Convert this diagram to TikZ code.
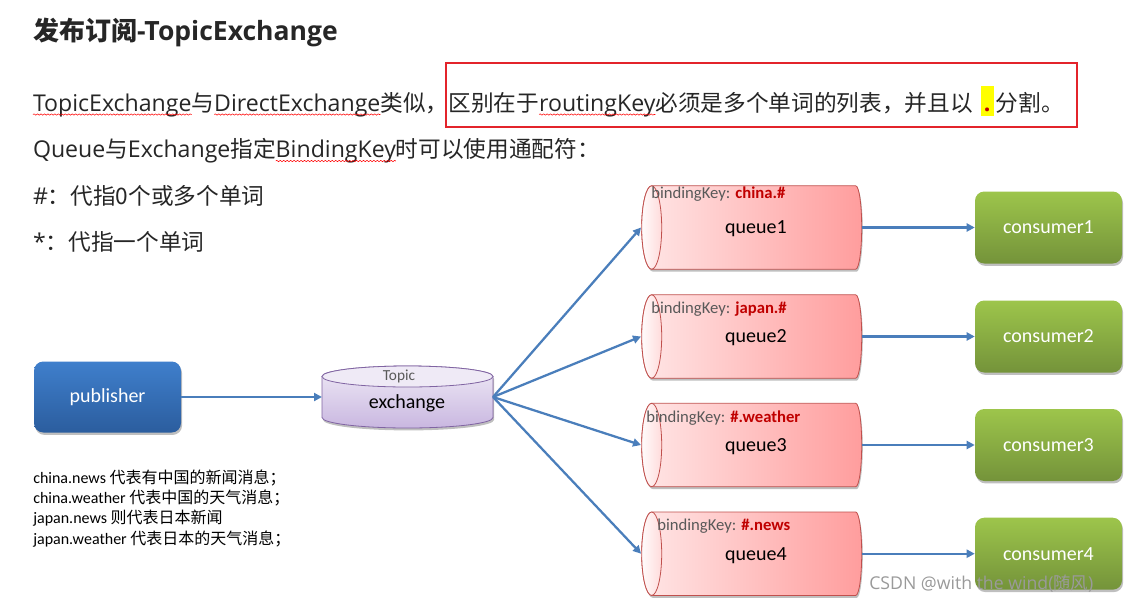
\documentclass[tikz,border=0pt]{standalone}
\usepackage{fontspec}
\setmainfont{Open Sans}[Scale=1.02]
\newfontfamily\zhf{Noto Sans CJK SC}
\newfontfamily\calf{Carlito}
\newcommand\zh[1]{{\zhf #1}}
\usetikzlibrary{shadows,decorations.pathmorphing,arrows.meta,calc}
\definecolor{txt}{HTML}{262626}
\definecolor{arr}{HTML}{4A7EBB}
\definecolor{boxred}{HTML}{E3242B}
\definecolor{keyred}{HTML}{C00000}
\definecolor{keygray}{HTML}{595959}
\definecolor{pubtop}{HTML}{3F7FCC}
\definecolor{pubbot}{HTML}{2B5D9E}
\definecolor{constop}{HTML}{9DC54B}
\definecolor{consbot}{HTML}{74933A}
\definecolor{qleft}{HTML}{FFE6E6}
\definecolor{qright}{HTML}{FF9D9D}
\definecolor{qborder}{HTML}{C0504D}
\definecolor{extop}{HTML}{EFEAF6}
\definecolor{exbot}{HTML}{C9B7E0}
\definecolor{exborder}{HTML}{8064A2}
\definecolor{hlyellow}{HTML}{FFFF00}
\definecolor{wmgray}{HTML}{9A9A9A}
\begin{document}
\begin{tikzpicture}[x=0.75pt,y=0.75pt,
  seg/.style={inner sep=0pt, outer sep=0pt, anchor=base west, text=txt, font=\fontsize{17}{20}\selectfont},
  titlef/.style={inner sep=0pt, outer sep=0pt, anchor=base west, text=txt, font=\fontsize{19.5}{22}\selectfont},
  squig/.style={draw=red, line width=0.4pt, decorate, decoration={snake, amplitude=0.5pt, segment length=2.6pt}},
  flow/.style={draw=arr, line width=1.7pt, -{Triangle[length=6pt,width=6pt]}},
  shad/.style={drop shadow={shadow xshift=0.8pt, shadow yshift=-1.8pt, opacity=0.25, fill=black}},
  pubbox/.style={rounded corners=7pt, top color=pubtop, bottom color=pubbot, minimum width=110.25pt, minimum height=53.25pt, text=white, font=\calf\fontsize{15}{18}\selectfont, shad},
  consbox/.style={rounded corners=7pt, top color=constop, bottom color=consbot, minimum width=110.25pt, minimum height=54pt, text=white, font=\calf\fontsize{15}{18}\selectfont, shad},
  qnode/.style={inner sep=0pt, outer sep=0pt, minimum width=165.5pt, minimum height=62.6pt},
  qbody/.style={left color=qleft, right color=qright, draw=qborder, line width=0.6pt, shad},
  qface/.style={left color=white!85!qleft, right color=qleft!85!qright, draw=qborder, line width=0.6pt},
  qlab/.style={inner sep=0pt, font=\calf\fontsize{15}{18}\selectfont, text=black},
  keylab/.style={inner sep=0pt, anchor=west, font=\calf\fontsize{12.5}{15}\selectfont, text=keygray},
  note/.style={inner sep=0pt, anchor=base west, text=black, font=\calf\fontsize{12}{14}\selectfont},
  wm/.style={inner sep=0pt, anchor=base west, text=wmgray, font=\fontsize{13}{16}\selectfont}
]
\useasboundingbox (0,0) rectangle (1131,-604);
\fill[white] (0,0) rectangle (1131,-604);

% ---------- header text ----------
\node[titlef] (title) at (33,-40) {\zh{\bfseries 发布订阅}\bfseries -TopicExchange};

\draw[boxred, line width=1.1pt] (446,-63) rectangle (1077,-127);

\node[seg] (l1a) at (33,-111) {TopicExchange};
\node[seg] (l1b) at (l1a.base east) {\zh{与}};
\node[seg] (l1c) at (l1b.base east) {DirectExchange};
\node[seg] (l1d) at (l1c.base east) {\zh{类似，区别在于}};
\node[seg] (l1e) at (l1d.base east) {routingKey};
\node[seg] (l1f) at (l1e.base east) {\zh{必须是多个单词的列表，并且以}};
\coordinate (dotpos) at ($(l1f.base east)+(8,0)$);
\fill[hlyellow] ($(dotpos)+(0,-5)$) rectangle ($(dotpos)+(13,25)$);
\node[seg, anchor=base, text=keyred, font=\fontsize{17}{20}\selectfont\bfseries] (l1g) at ($(dotpos)+(6.5,0)$) {.};
\node[seg] (l1h) at ($(dotpos)+(15,0)$) {\zh{分割。}};

\node[seg] (l2a) at (33,-157.5) {Queue\zh{与}Exchange\zh{指定}};
\node[seg] (l2b) at (l2a.base east) {BindingKey};
\node[seg] (l2c) at (l2b.base east) {\zh{时可以使用通配符：}};

\node[seg] (l3) at (33,-204) {\#\zh{：代指0个或多个单词}};
\node[seg] (l4) at (33,-250) {*\zh{：代指一个单词}};

\foreach \n in {l1a,l1c,l1e,l2b}
  \draw[squig] ($(\n.base west)+(0,-3.5)$) -- ($(\n.base east)+(0,-3.5)$);

% ---------- publisher ----------
\node[pubbox] (pub) at (107.5,-397) {publisher};

% ---------- exchange ----------
\node[inner sep=0pt, outer sep=0pt, minimum width=128.25pt, minimum height=46.5pt] (ex) at (407.5,-397) {};
\path[top color=extop, bottom color=exbot, draw=exborder, line width=0.6pt, shad]
  (322,-376.5) -- (322,-417.5) arc[start angle=180, end angle=360, x radius=85.5, y radius=10.5]
  -- (493,-376.5) arc[start angle=0, end angle=180, x radius=85.5, y radius=10.5] -- cycle;
\path[fill=extop, draw=exborder, line width=0.6pt] (407.5,-376.5) ellipse[x radius=85.5, y radius=10.5];
\node[inner sep=0pt, text=keygray, font=\calf\fontsize{11.5}{14}\selectfont] (extopic) at (399,-376) {Topic};
\node[inner sep=0pt, text=black, font=\calf\fontsize{15}{18}\selectfont] (exname) at (407,-403) {exchange};

\draw[flow] (pub.east) -- (ex.west);

% ---------- queues and consumers ----------
\foreach \i/\yc/\key/\kx/\ky in {1/227.5/china.\#/651/194, 2/336.5/japan.\#/651/309, 3/445/\#.weather/646/418, 4/553.7/\#.news/657/526} {
  \node[qnode] (q\i) at (751.35,-\yc) {};
  \pgfmathsetmacro\yt{-\yc+41.7}
  \pgfmathsetmacro\yb{-\yc-41.7}
  \path[qbody] (651.7,\yt) -- (855.7,\yt) arc[start angle=90, end angle=-90, x radius=6, y radius=41.7]
     -- (651.7,\yb) arc[start angle=270, end angle=90, x radius=10, y radius=41.7] -- cycle;
  \path[qface] (651.7,-\yc) ellipse[x radius=10, y radius=41.7];
  \node[keylab] (k\i) at (\kx,-\ky) {bindingKey: \textbf{\color{keyred}\key}};
  \node[qlab] (ql\i) at (756,-\yc-1.5) {queue\i};
  \node[consbox] (c\i) at (1048.5,-\yc) {consumer\i};
  \draw[flow] (ex.east) -- (q\i.west);
  \draw[flow] (q\i.east) -- (c\i.west);
}

% ---------- notes ----------
\node[note] (n1) at (33,-483) {china.news \zh{代表有中国的新闻消息；}};
\node[note] (n2) at (33,-503) {china.weather \zh{代表中国的天气消息；}};
\node[note] (n3) at (33,-523) {japan.news \zh{则代表日本新闻}};
\node[note] (n4) at (33,-544) {japan.weather \zh{代表日本的天气消息；}};

% ---------- watermark ----------
\node[wm] (wmark) at (869,-589) {CSDN @with the wind(\zh{随风})};
\end{tikzpicture}
\end{document}
